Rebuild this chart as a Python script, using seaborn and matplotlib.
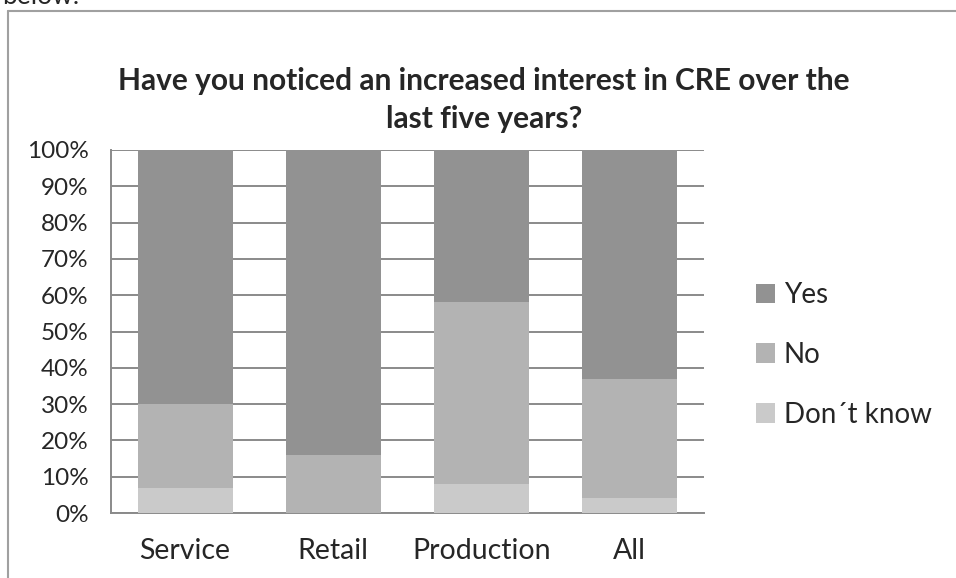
import matplotlib
matplotlib.use("Agg")
import matplotlib.pyplot as plt
from matplotlib.lines import Line2D
import seaborn as sns
import numpy as np

# survey shares in percent
sectors = ["Service", "Retail", "Production", "All"]
dont_know = [7, 0, 8, 4]
no = [23, 16, 50, 33]
yes = [70, 84, 42, 63]
ticks = list(range(0, 101, 10))

sns.set_theme(style="white")
plt.rcParams["font.family"] = ["Lato", "DejaVu Sans"]

fig = plt.figure(figsize=(9.56, 5.78), dpi=100)
ax = fig.add_axes([111 / 956, 1 - 513 / 578, 593 / 956, 363 / 578])

# cumulative heights so the bars stack
dk = np.array(dont_know)
no_top = dk + np.array(no)
yes_top = no_top + np.array(yes)

bar_kw = dict(width=0.64, saturation=1, linewidth=0, edgecolor="none", ax=ax)
sns.barplot(x=sectors, y=yes_top, color="#929292", label="Yes", zorder=2, **bar_kw)
sns.barplot(x=sectors, y=no_top, color="#b3b3b3", label="No", zorder=3, **bar_kw)
sns.barplot(x=sectors, y=dk, color="#cacaca", label="Don\u00b4t know", zorder=4, **bar_kw)

ax.set_ylim(0, 100)
ax.set_xlim(-0.5, 3.5)
ax.set_yticks(ticks)
ax.set_yticklabels([f"{t}%" for t in ticks], fontsize=17.5)
ax.tick_params(axis="x", labelsize=20.5, pad=18, length=0)
ax.tick_params(axis="y", pad=16, length=0)
for t in ticks:
    ax.axhline(t, color="#8a8a8a", lw=1.4, zorder=1)
for side in ["top", "right"]:
    ax.spines[side].set_visible(False)
for side in ["left", "bottom"]:
    ax.spines[side].set_color("#8a8a8a")
    ax.spines[side].set_linewidth(1.4)
ax.set_xlabel("")
ax.set_ylabel("")

ax.legend(loc="upper left", bbox_to_anchor=(756 / 956, 1 - 282 / 578),
          bbox_transform=fig.transFigure, frameon=False,
          fontsize=20, handlelength=0.7, handleheight=0.7,
          handletextpad=0.3, labelspacing=1.22, borderaxespad=0, borderpad=0)

fig.suptitle("Have you noticed an increased interest in CRE over the\nlast five years?",
             x=484 / 956, y=1 - 67 / 578, fontsize=21.5, fontweight="bold",
             linespacing=1.45)

# document frame around the chart and the cut-off text above it
fig.add_artist(Line2D([8 / 956, 8 / 956], [0, 1 - 11 / 578], color="#a0a0a0", lw=1.5))
fig.add_artist(Line2D([8 / 956, 1], [1 - 11 / 578, 1 - 11 / 578], color="#a0a0a0", lw=1.5))
fig.text(2 / 956, 1 - 4 / 578, "below.", fontsize=19, va="baseline")

fig.savefig("out.png", dpi=100)
